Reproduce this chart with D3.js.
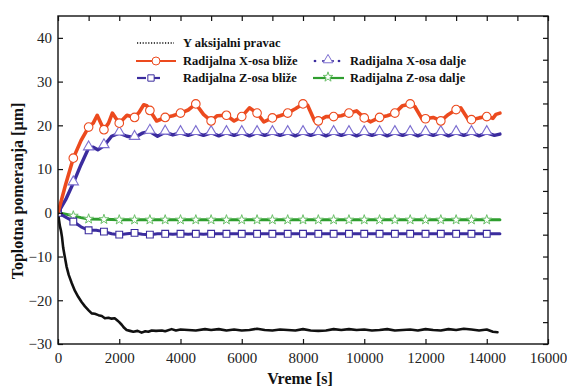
<!DOCTYPE html>
<html>
<head>
<meta charset="utf-8">
<script src="https://cdn.jsdelivr.net/npm/d3@7"></script>
<style>
  html, body { margin: 0; padding: 0; background: #fff; }
  svg { display: block; }
</style>
</head>
<body>
<svg id="chart" width="567" height="387"></svg>
<script>
// ---- data (time [s], displacement [µm]) ----
const xTicks = [0, 2000, 4000, 6000, 8000, 10000, 12000, 14000, 16000];
const yTicks = [-30, -20, -10, 0, 10, 20, 30, 40];

const yAksijalni = [
  [0,0],[30,-1.5],[60,-3],[100,-4.2],[130,-5.5],[170,-8.0],[220,-10],[280,-12.3],[350,-14.2],
  [450,-16.1],[550,-17.8],[660,-19.2],[770,-20.4],[880,-21.4],[1000,-22.3],[1100,-23.0],
  [1200,-23.1],[1320,-23.4],[1430,-23.6],[1530,-24.1],[1650,-24.0],[1750,-24.2],[1850,-24.1],
  [1920,-24.5],[2000,-25.0],[2080,-25.6],[2160,-26.3],[2240,-26.8],[2350,-27.0],[2460,-27.2],
  [2600,-27.0],[2730,-27.4],[2850,-27.1],[2950,-27.2],[3060,-26.9],[3200,-27.0],[3390,-26.9],
  [3500,-27.1],[3710,-26.6],[3850,-26.9],[4000,-26.7],[4250,-26.8],[4500,-26.9],[4800,-26.6],
  [5000,-26.8],[5250,-26.6],[5500,-26.9],[5750,-26.7],[6000,-26.9],[6250,-26.8],[6500,-26.5],
  [6750,-26.8],[7000,-26.9],[7250,-26.7],[7500,-26.8],[7750,-26.9],[8000,-26.6],[8250,-26.9],
  [8500,-27.0],[8750,-26.9],[9000,-26.6],[9250,-26.8],[9500,-26.6],[9750,-26.8],[10000,-26.7],
  [10250,-26.9],[10500,-26.8],[10750,-26.6],[11000,-26.9],[11250,-26.8],[11500,-26.7],
  [11750,-26.9],[12000,-26.6],[12250,-26.8],[12500,-26.9],[12750,-26.6],[13000,-26.8],
  [13250,-26.5],[13500,-26.7],[13750,-26.9],[14000,-26.7],[14200,-27.2],[14350,-27.3]
];

const xBlize = [
  [0,0],[250,6.5],[500,12.5],[750,16.5],[1000,19.6],[1150,20.5],[1280,22.3],[1400,20.5],
  [1500,19.0],[1650,20.5],[1775,22.8],[1900,21.5],[2000,20.5],[2250,22.3],[2500,21.8],
  [2650,23.0],[2800,24.7],[2900,24.5],[3000,23.4],[3220,21.0],[3500,21.8],[3750,22.2],
  [4000,22.8],[4250,23.5],[4500,24.9],[4750,22.5],[5000,21.0],[5200,22.2],[5500,22.3],
  [5750,21.0],[6000,22.0],[6250,24.0],[6500,22.8],[6720,20.8],[7000,21.7],[7250,22.2],
  [7500,22.8],[7750,23.8],[8000,24.9],[8150,24.6],[8380,21.0],[8500,21.0],[8750,22.0],
  [9000,22.0],[9250,22.2],[9500,22.8],[9750,23.3],[10000,21.7],[10200,20.8],[10500,21.8],
  [10750,22.2],[11000,22.8],[11250,24.5],[11500,24.9],[11650,24.3],[11900,21.3],[12000,21.5],
  [12250,21.8],[12500,21.0],[12750,22.5],[13000,23.6],[13150,24.0],[13400,21.3],[13500,21.3],
  [13750,21.7],[14000,22.0],[14200,21.6],[14300,22.5],[14430,22.8]
];

const xDalje = [
  [0,0],[250,3.0],[500,6.8],[750,11.0],[1000,14.8],[1150,15.0],[1300,14.4],[1500,15.3],
  [1750,17.5],[2000,18.2],[2250,17.5],[2500,17.2],[2750,18.2],[3000,18.6],[3250,17.5],
  [3500,18.4],[3750,17.8],[4000,18.3],[4250,17.7],[4500,18.3],[4750,17.7],[5000,18.3],
  [5250,17.6],[5500,18.3],[5750,17.7],[6000,18.3],[6250,17.6],[6500,18.3],[6750,17.7],
  [7000,18.3],[7250,17.7],[7500,18.3],[7750,17.6],[8000,18.3],[8250,17.7],[8500,18.3],
  [8750,17.6],[9000,18.3],[9250,17.7],[9500,18.3],[9750,17.6],[10000,18.3],[10250,17.7],
  [10500,18.3],[10750,17.6],[11000,18.3],[11250,17.7],[11500,18.3],[11750,17.6],[12000,18.3],
  [12250,17.7],[12500,18.3],[12750,17.6],[13000,18.3],[13250,17.7],[13500,18.3],[13750,17.6],
  [14000,18.3],[14250,17.7],[14430,18.0]
];

const zBlize = [
  [0,0],[250,-1.0],[500,-2.0],[750,-3.2],[1000,-4.0],[1250,-4.0],[1500,-4.3],[1750,-4.8],
  [2000,-5.0],[2250,-4.8],[2500,-4.6],[2750,-4.9],[3000,-5.0],[3250,-4.8],[3500,-4.8],
  [3750,-4.9],[4000,-4.8],[4250,-4.9],[4500,-4.8],[4750,-4.9],[5000,-4.8],[5500,-4.8],
  [6000,-4.8],[6500,-4.8],[7000,-4.8],[7500,-4.8],[8000,-4.8],[8500,-4.8],[9000,-4.8],
  [9500,-4.8],[10000,-4.8],[10500,-4.8],[11000,-4.8],[11500,-4.8],[12000,-4.8],[12500,-4.8],
  [13000,-4.8],[13500,-4.8],[14000,-4.8],[14430,-4.8]
];

const zDalje = [
  [0,0],[250,-0.3],[500,-0.7],[750,-1.1],[1000,-1.4],[1500,-1.5],[2000,-1.6],[2500,-1.6],
  [3000,-1.6],[3500,-1.6],[4000,-1.6],[4500,-1.6],[5000,-1.6],[5500,-1.6],[6000,-1.6],
  [6500,-1.6],[7000,-1.6],[7500,-1.6],[8000,-1.6],[8500,-1.6],[9000,-1.6],[9500,-1.6],
  [10000,-1.6],[10500,-1.6],[11000,-1.6],[11500,-1.6],[12000,-1.6],[12500,-1.6],[13000,-1.6],
  [13500,-1.6],[14000,-1.6],[14430,-1.6]
];

const labels = {
  y: "Y aksijalni pravac",
  xb: "Radijalna X-osa bliže",
  zb: "Radijalna Z-osa bliže",
  xd: "Radijalna X-osa dalje",
  zd: "Radijalna Z-osa dalje"
};

// ---- layout ----
const svg = d3.select("#chart");
const L = 58, R = 548, T = 16, B = 344;
const x = d3.scaleLinear().domain([0, 16000]).range([L, R]);
const y = d3.scaleLinear().domain([-30, 45]).range([B, T]);

const RED = "#ec4a1e", BLUE = "#3b2c9e", GREEN = "#2f9e2f", TRI = "#7d6fd0", STAR = "#6cc06a";
const serif = "Liberation Serif";

const line = d3.line().x(d => x(d[0])).y(d => y(d[1]));

svg.append("defs").append("clipPath").attr("id", "c")
  .append("rect").attr("x", L).attr("y", T).attr("width", R - L).attr("height", B - T);

const g = svg.append("g").attr("clip-path", "url(#c)");

function drawLine(data, color, w) {
  g.append("path").datum(data).attr("d", line)
    .attr("fill", "none").attr("stroke", color).attr("stroke-width", w)
    .attr("stroke-linejoin", "round").attr("stroke-linecap", "round");
}
function drawMarkers(data, type, size, stroke, sw, includeZero, dy) {
  const pts = data.filter(d => d[0] % 500 === 0 && (includeZero || d[0] > 0));
  g.selectAll(null).data(pts).enter().append("path")
    .attr("d", d3.symbol().type(type).size(size))
    .attr("transform", d => `translate(${x(d[0])},${y(d[1]) + (dy || 0)})`)
    .attr("fill", "#fff").attr("stroke", stroke).attr("stroke-width", sw);
}

drawLine(yAksijalni, "#111", 2.6);
drawLine(zDalje, GREEN, 3);
drawMarkers(zDalje, d3.symbolStar, 30, STAR, 1, false);
drawLine(zBlize, BLUE, 3);
drawMarkers(zBlize, d3.symbolSquare, 46, BLUE, 1.1, true);
drawLine(xDalje, BLUE, 3.4);
drawMarkers(xDalje, d3.symbolTriangle, 46, TRI, 1.1, false, -1.2);
drawLine(xBlize, RED, 3.6);
drawMarkers(xBlize, d3.symbolCircle, 58, RED, 1.1, false);

// ---- axes ----
const axB = svg.append("g").attr("transform", `translate(0,${B})`)
  .call(d3.axisBottom(x).tickValues(xTicks).tickSize(-5).tickPadding(8).tickFormat(d3.format("d")));
const axL = svg.append("g").attr("transform", `translate(${L},0)`)
  .call(d3.axisLeft(y).tickValues(yTicks).tickSize(-5).tickPadding(6).tickFormat(d3.format("d")));
const axT = svg.append("g").attr("transform", `translate(0,${T})`)
  .call(d3.axisTop(x).tickValues(d3.range(0, 16001, 1000)).tickSize(-5).tickFormat(""));
const axR = svg.append("g").attr("transform", `translate(${R},0)`)
  .call(d3.axisRight(y).tickValues(d3.range(-30, 46, 5)).tickSize(-5).tickFormat(""));

[axB, axL, axT, axR].forEach(a => {
  a.attr("font-family", serif);
  a.select(".domain").remove();
  a.selectAll(".tick line").attr("stroke", "#111").attr("stroke-width", 1.2);
  a.selectAll("text").attr("font-family", serif).attr("font-size", 15).attr("fill", "#222");
});

svg.append("rect").attr("x", L).attr("y", T).attr("width", R - L).attr("height", B - T)
  .attr("fill", "none").attr("stroke", "#111").attr("stroke-width", 1.4);

// axis titles
svg.append("text").attr("x", 300).attr("y", 384).attr("text-anchor", "middle")
  .attr("font-family", serif).attr("font-weight", "bold").attr("font-size", 16)
  .attr("fill", "#111").text("Vreme [s]");
svg.append("text").attr("transform", "translate(23,191) rotate(-90)").attr("text-anchor", "middle")
  .attr("font-family", serif).attr("font-weight", "bold").attr("font-size", 16)
  .attr("fill", "#111").text("Toplotna pomeranja [µm]");

// ---- legend ----
const lg = svg.append("g").attr("font-family", serif).attr("font-weight", "bold")
  .attr("font-size", 12.5).attr("fill", "#111");
function ltext(tx, ty, s) { lg.append("text").attr("x", tx).attr("y", ty + 4).text(s); }

// row 1: dotted black
lg.append("line").attr("x1", 137).attr("x2", 174).attr("y1", 43).attr("y2", 43)
  .attr("stroke", "#111").attr("stroke-width", 1.6).attr("stroke-dasharray", "1.2,1.6");
ltext(183, 43, labels.y);
// row 2: red circle
lg.append("line").attr("x1", 136).attr("x2", 176).attr("y1", 61).attr("y2", 61)
  .attr("stroke", RED).attr("stroke-width", 2.2);
lg.append("path").attr("d", d3.symbol().type(d3.symbolCircle).size(50)())
  .attr("transform", "translate(156,61)").attr("fill", "#fff").attr("stroke", RED).attr("stroke-width", 1);
ltext(183, 61, labels.xb);
// row 3: blue square dashed
lg.append("line").attr("x1", 137).attr("x2", 146).attr("y1", 78).attr("y2", 78)
  .attr("stroke", BLUE).attr("stroke-width", 2.2);
lg.append("line").attr("x1", 154).attr("x2", 160).attr("y1", 78).attr("y2", 78)
  .attr("stroke", BLUE).attr("stroke-width", 2.2);
lg.append("path").attr("d", d3.symbol().type(d3.symbolSquare).size(40)())
  .attr("transform", "translate(151,78)").attr("fill", "#fff").attr("stroke", BLUE).attr("stroke-width", 1);
ltext(183, 78, labels.zb);
// col 2 row 2: blue triangle dotted
[315, 339].forEach(px => lg.append("line").attr("x1", px - 1.2).attr("x2", px + 1.2)
  .attr("y1", 61).attr("y2", 61).attr("stroke", BLUE).attr("stroke-width", 2.2));
lg.append("line").attr("x1", 322).attr("x2", 334).attr("y1", 61).attr("y2", 61)
  .attr("stroke", BLUE).attr("stroke-width", 1.6);
lg.append("path").attr("d", d3.symbol().type(d3.symbolTriangle).size(40)())
  .attr("transform", "translate(328,60)").attr("fill", "#fff").attr("stroke", TRI).attr("stroke-width", 1);
ltext(350, 61, labels.xd);
// col 2 row 3: green star
lg.append("line").attr("x1", 313).attr("x2", 344).attr("y1", 78).attr("y2", 78)
  .attr("stroke", GREEN).attr("stroke-width", 2.2);
lg.append("path").attr("d", d3.symbol().type(d3.symbolStar).size(30)())
  .attr("transform", "translate(328,77)").attr("fill", "#fff").attr("stroke", STAR).attr("stroke-width", 1);
ltext(350, 78, labels.zd);
</script>
</body>
</html>
